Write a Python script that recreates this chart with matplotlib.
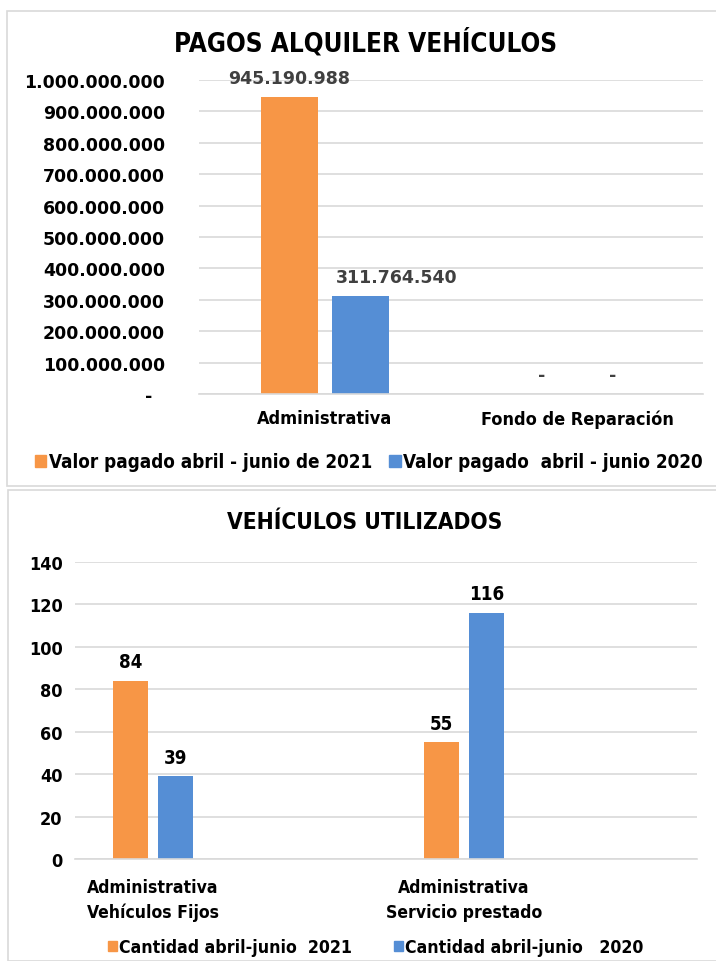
import matplotlib
matplotlib.use("Agg")
import matplotlib.pyplot as plt
from matplotlib.patches import Rectangle, Patch

# ---------------- data ----------------
top_title = "PAGOS ALQUILER VEHÍCULOS"
top_categories = ["Administrativa", "Fondo de Reparación"]
top_series_names = ["Valor pagado abril - junio de 2021", "Valor pagado  abril - junio 2020"]
top_2021 = [945190988, 0]
top_2020 = [311764540, 0]
top_ticks = [0, 100000000, 200000000, 300000000, 400000000, 500000000,
             600000000, 700000000, 800000000, 900000000, 1000000000]

bot_title = "VEHÍCULOS UTILIZADOS"
bot_categories = ["Administrativa\nVehículos Fijos", "", "Administrativa\nServicio prestado", ""]
bot_series_names = ["Cantidad abril-junio  2021", "Cantidad abril-junio   2020"]
bot_2021 = [84, None, 55, None]
bot_2020 = [39, None, 116, None]
bot_ticks = [0, 20, 40, 60, 80, 100, 120, 140]

ORANGE = "#F79646"
BLUE = "#558ED5"
GRID = "#D9D9D9"
W, H = 716, 962

NUM = dict(family="DejaVu Sans", weight="bold")
CND = dict(family="DejaVu Sans", weight="bold", stretch="condensed")


def fmt_dots(v):
    if v == 0:
        return "-\u2007"
    return f"{v:,.0f}".replace(",", ".")


fig = plt.figure(figsize=(W / 100, H / 100), dpi=100)
fig.patch.set_facecolor("white")

# panel borders
fig.patches.append(Rectangle((7 / W, 1 - 487 / H), (W - 6) / W, (487 - 12) / H,
                             transform=fig.transFigure, fill=False,
                             edgecolor=GRID, lw=1.2))
fig.patches.append(Rectangle((8 / W, 0), (W - 7) / W, (H - 491) / H,
                             transform=fig.transFigure, fill=False,
                             edgecolor=GRID, lw=1.2))


def style_axes(ax):
    for s in ["top", "right", "left"]:
        ax.spines[s].set_visible(False)
    ax.spines["bottom"].set_color(GRID)
    ax.spines["bottom"].set_linewidth(1.2)
    ax.yaxis.grid(True, color=GRID, lw=1.2)
    ax.set_axisbelow(True)
    ax.tick_params(axis="both", length=0)


# ---------------- top chart ----------------
ax1 = fig.add_axes([199 / W, 1 - 395 / H, (703 - 199) / W, (395 - 81) / H])
style_axes(ax1)
x1 = list(range(len(top_categories)))
bw = 0.226
off = 0.142
ax1.bar([x - off for x in x1], top_2021, bw, color=ORANGE)
ax1.bar([x + off for x in x1], top_2020, bw, color=BLUE)
ax1.set_xlim(-0.5, len(top_categories) - 0.5)
ax1.set_ylim(top_ticks[0], top_ticks[-1])
ax1.set_yticks(top_ticks)
ax1.set_yticklabels([fmt_dots(t) for t in top_ticks], fontsize=12.5, **NUM)
ax1.tick_params(axis="y", pad=24.5)
ax1.set_xticks(x1)
ax1.set_xticklabels(top_categories, fontsize=13, **CND)
ax1.tick_params(axis="x", pad=11)

for xa, v in zip(x1, top_2021):
    ax1.annotate(fmt_dots(v).strip("\u2007"), (xa - off, v), xytext=(0, 7),
                 textcoords="offset points", ha="center", va="bottom",
                 color="#404040", fontsize=12.5, **NUM)
for xa, v in zip(x1, top_2020):
    dx = 26 if v else 0
    ax1.annotate(fmt_dots(v).strip("\u2007"), (xa + off, v), xytext=(dx, 7),
                 textcoords="offset points", ha="center", va="bottom",
                 color="#404040", fontsize=12.5, **NUM)

fig.text(366 / W, 1 - 43 / H, top_title, ha="center", va="center",
         fontsize=18.7, **CND)

fig.legend([Patch(color=ORANGE), Patch(color=BLUE)], top_series_names,
           loc="center", bbox_to_anchor=(369 / W, 1 - 463 / H), ncol=2,
           frameon=False, prop=dict(size=13.5, **CND),
           handlelength=0.6, handleheight=0.6, handletextpad=0.15,
           columnspacing=0.9)

# ---------------- bottom chart ----------------
ax2 = fig.add_axes([75 / W, 1 - 860 / H, (697 - 75) / W, (860 - 563) / H])
style_axes(ax2)
x2 = list(range(len(bot_categories)))
bw2 = 0.225
off2 = 0.145
xs_a = [x - off2 for x, v in zip(x2, bot_2021) if v is not None]
vs_a = [v for v in bot_2021 if v is not None]
xs_b = [x + off2 for x, v in zip(x2, bot_2020) if v is not None]
vs_b = [v for v in bot_2020 if v is not None]
ax2.bar(xs_a, vs_a, bw2, color=ORANGE)
ax2.bar(xs_b, vs_b, bw2, color=BLUE)
ax2.set_xlim(-0.5, len(bot_categories) - 0.5)
ax2.set_ylim(bot_ticks[0], bot_ticks[-1])
ax2.set_yticks(bot_ticks)
ax2.set_yticklabels([str(t) for t in bot_ticks], fontsize=13, **CND)
ax2.tick_params(axis="y", pad=9)
ax2.set_xticks(x2)
ax2.set_xticklabels(bot_categories, fontsize=12.6, linespacing=1.45, **CND)
ax2.tick_params(axis="x", pad=14)
for xa, v in zip(xs_a, vs_a):
    ax2.annotate(str(v), (xa, v), xytext=(0, 7), textcoords="offset points",
                 ha="center", va="bottom", fontsize=13.5, **CND)
for xa, v in zip(xs_b, vs_b):
    ax2.annotate(str(v), (xa, v), xytext=(0, 7), textcoords="offset points",
                 ha="center", va="bottom", fontsize=13.5, **CND)

fig.text(365 / W, 1 - 523 / H, bot_title, ha="center", va="center",
         fontsize=16.3, **CND)

fig.legend([Patch(color=ORANGE), Patch(color=BLUE)], bot_series_names,
           loc="center", bbox_to_anchor=(376 / W, 1 - 948 / H), ncol=2,
           frameon=False, prop=dict(size=12.7, **CND),
           handlelength=0.46, handleheight=0.5, handletextpad=0.15,
           columnspacing=2.4)

fig.savefig("out.png", dpi=100, facecolor="white")
